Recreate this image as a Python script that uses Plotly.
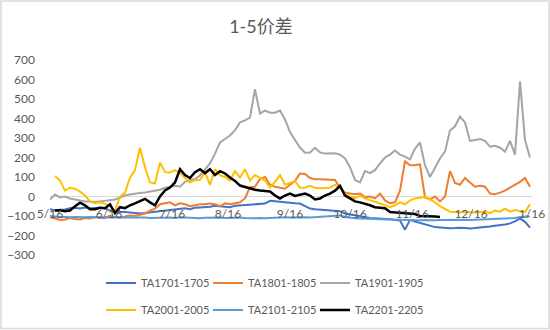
import plotly.graph_objects as go

# category positions (trading-day index, sampled) and month tick labels
day_index = list(range(97))
tick_pos = [0, 11.8, 24.4, 35.6, 48, 60, 72.4, 84.2, 96.4]
tick_labels = ["5/16", "6/16", "7/16", "8/16", "9/16", "10/16", "11/16", "12/16", "1/16"]

ta1701 = [-65, -72, -68, -67, -60, -58, -62, -56, -60, -58, -58, -60, -72, -75, -80, -80, -82, -85, -87, -85,
          -82, -80, -75, -72, -70, -68, -62, -60, -65, -58, -56, -55, -52, -48, -50, -52, -55, -48, -46, -45,
          -44, -40, -38, -36, -22, -25, -28, -31, -32, -35, -36, -48, -62, -65, -67, -67, -68, -70, -75, -87,
          -92, -97, -100, -105, -110, -112, -113, -115, -117, -120, -123, -170, -120, -128, -135, -144, -150, -157, -159, -162,
          -163, -162, -160, -162, -164, -162, -160, -157, -154, -150, -148, -144, -138, -128, -112, -130, -160]

ta1801 = [-105, -113, -120, -118, -110, -115, -118, -110, -113, -105, -110, -110, -98, -105, -108, -103, -97, -100, -95, -87,
          -72, -62, -40, -35, -30, -45, -35, -40, -50, -45, -40, -40, -36, -40, -50, -35, -40, -35, -30, -10,
          48, 50, 90, 100, 60, 50, 45, 40, 60, 80, 118, 115, 95, 88, 88, 88, 88, 85, 45, 20,
          15, 12, 15, -3, 0, -10, 15, -20, -35, -30, 30, 180, 160, 160, 165, -5, -15, 0, -25, 0,
          130, 70, 60, 95, 72, 50, 55, 50, 15, 12, 20, 30, 45, 60, 75, 95, 50]

ta1901 = [-15, 10, -5, 0, -10, -15, -20, -25, -25, -28, -25, -22, -20, -15, -5, 5, 10, 15, 18, 20,
          25, 28, 35, 45, 50, 55, 50, 75, 85, 90, 108, 140, 170, 220, 277, 295, 313, 340, 380, 390,
          405, 550, 425, 441, 430, 430, 441, 395, 330, 290, 251, 225, 226, 250, 226, 220, 220, 222, 215, 195,
          150, 85, 72, 130, 120, 135, 170, 200, 215, 236, 215, 205, 190, 246, 277, 160, 100, 150, 195, 230,
          338, 360, 410, 380, 285, 290, 295, 285, 255, 260, 250, 230, 285, 215, 590, 290, 200]

ta2001 = [None, 105, 82, 30, 45, 40, 25, 5, -25, -35, -30, -38, -50, -75, 0, 20, 97, 135, 250, 150,
          72, 67, 174, 125, 123, 135, 120, 95, 72, 85, 85, 125, 60, 140, 108, 100, 82, 130, 97, 140,
          82, 110, 97, 82, 46, 75, 110, 60, 70, 80, 45, 45, 55, 45, 42, 42, 45, 60, 45, 15,
          0, -8, 5, -10, -20, -30, -36, -45, -55, -45, -30, -40, -20, -10, -5, -2, -15, -30, -50, -65,
          -78, -80, -82, -78, -80, -82, -80, -78, -85, -72, -78, -62, -78, -70, -75, -80, -40]

ta2101 = [-100, -103, -105, -105, -107, -105, -107, -106, -105, -107, -106, -108, -107, -108, -106, -107, -108, -108, -107, -108,
          -110, -109, -108, -107, -108, -110, -107, -108, -110, -112, -111, -109, -108, -107, -108, -110, -109, -107, -108, -110,
          -112, -111, -110, -112, -110, -108, -109, -107, -108, -107, -106, -107, -108, -106, -105, -104, -103, -100, -97, -105,
          -110, -112, -113, -115, -114, -116, -117, -118, -117, -118, -120, -120, -121, -120, -122, -121, -123, -122, -121, -120,
          -120, -121, -120, -119, -120, -119, -118, -118, -117, -117, -116, -115, -113, -110, -105, -102, -103]

ta2201 = [None, -72, -70, -75, -72, -50, -32, -45, -65, -65, -58, -60, -40, -85, -55, -60, -45, -35, -25, -12,
          -30, -45, 0, 31, 46, 72, 140, 110, 95, 125, 140, 120, 140, 110, 130, 118, 97, 80, 56, 48,
          41, 35, 31, 28, 26, 5, -10, 5, 15, 3, 8, 15, 5, -15, -10, 5, 15, 30, 55, 5,
          -10, -25, -30, -36, -45, -55, -56, -60, -80, -82, -82, -85, -85, -90, -100, -100, -100, -103, -105, None,
          None, None, None, None, None, None, None, None, None, None, None, None, None, None, None, None, None]

series = [
    ("TA1701-1705", ta1701, "#4472C4", 2, "legend", 62),
    ("TA1801-1805", ta1801, "#ED7D31", 2, "legend", 62),
    ("TA1901-1905", ta1901, "#A5A5A5", 2, "legend", 74),
    ("TA2001-2005", ta2001, "#FFC000", 2, "legend2", 62),
    ("TA2101-2105", ta2101, "#5B9BD5", 2, "legend2", 62),
    ("TA2201-2205", ta2201, "#000000", 2.5, "legend2", 74),
]

FONT = "Lato, 'Noto Sans CJK SC', sans-serif"
GREY = "#595959"

fig = go.Figure()
for name, vals, color, w, lg, lw in series:
    fig.add_trace(go.Scatter(x=day_index, y=vals, name=name, mode="lines",
                             line=dict(color=color, width=w), legend=lg,
                             legendwidth=lw, connectgaps=False))

legend_common = dict(orientation="h", xanchor="left", yanchor="middle",
                     xref="container", yref="container",
                     font=dict(family=FONT, size=11, color=GREY),
                     bgcolor="rgba(0,0,0,0)", itemclick=False)

fig.update_layout(
    width=550, height=330,
    margin=dict(l=50, r=18, t=60, b=75, autoexpand=False),
    paper_bgcolor="white", plot_bgcolor="white",
    font=dict(family=FONT, size=12, color=GREY),
    title=dict(text="1-5价差", x=0.4745, xanchor="center", xref="container",
               y=1 - 27 / 330, yanchor="middle", yref="container",
               font=dict(family=FONT, size=18, color=GREY)),
    xaxis=dict(range=[0, 96.4], tickmode="array", tickvals=tick_pos, ticktext=tick_labels,
               showgrid=False, zeroline=False, showline=False, automargin=False,
               anchor="free", position=0.3,
               ticks="outside", ticklen=6, tickcolor="rgba(0,0,0,0)",
               tickfont=dict(family=FONT, size=12, color=GREY)),
    yaxis=dict(range=[-300, 700], dtick=100, showgrid=False, automargin=False,
               zeroline=True, zerolinecolor="#D9D9D9", zerolinewidth=1,
               showline=False, ticklabelstandoff=14,
               tickfont=dict(family=FONT, size=12, color=GREY)),
    legend=dict(x=101 / 550, y=1 - 283 / 330, **legend_common),
    legend2=dict(x=101 / 550, y=1 - 310 / 330, **legend_common),
    shapes=[dict(type="rect", xref="paper", yref="paper",
                 x0=(1 - 50) / 482, x1=(549 - 50) / 482,
                 y0=(255 - 328.5) / 195, y1=(255 - 1) / 195,
                 line=dict(color="#D9D9D9", width=1.5), fillcolor="rgba(0,0,0,0)", layer="below")],
)

fig.write_html("out.html")
